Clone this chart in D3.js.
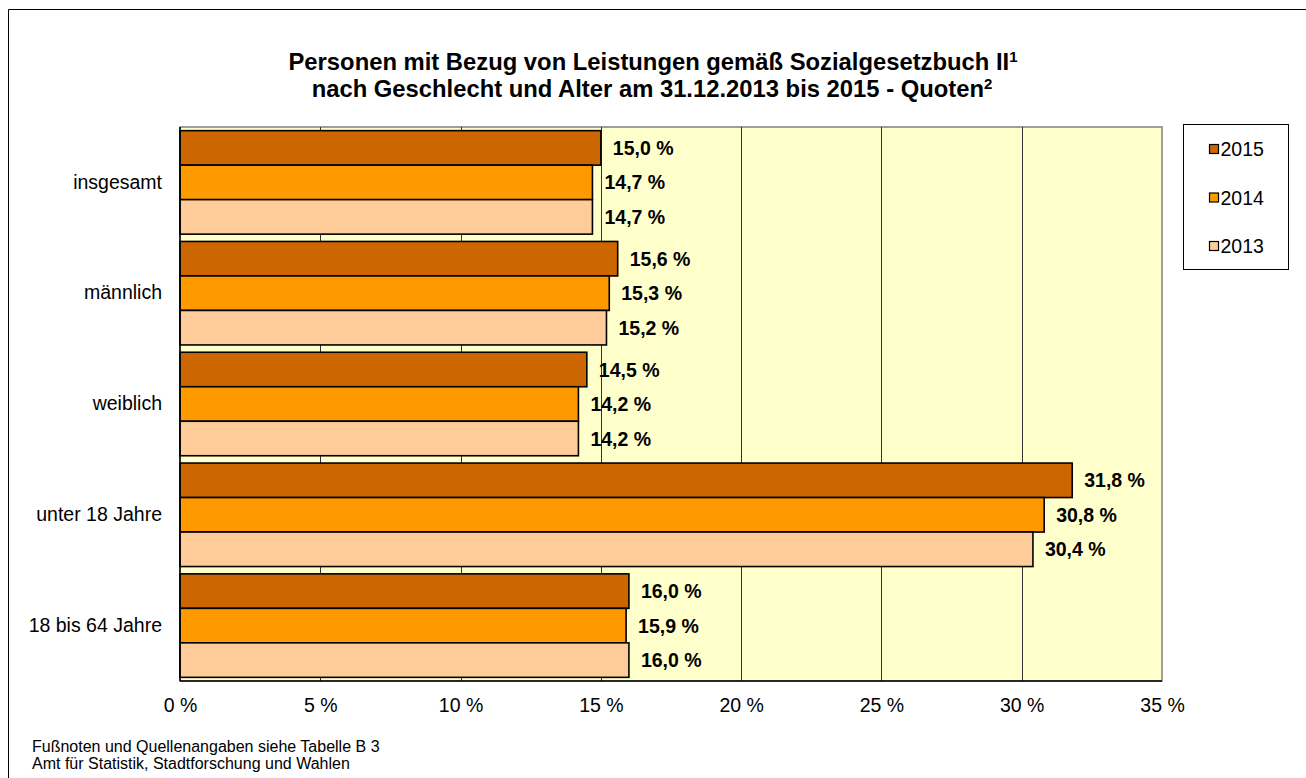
<!DOCTYPE html>
<html>
<head>
<meta charset="utf-8">
<script src="https://cdn.jsdelivr.net/npm/d3@7"></script>
<style>
  html, body { margin: 0; padding: 0; background: #fff; overflow: hidden; }
  svg { display: block; font-family: "Liberation Sans", Arial, sans-serif; }
</style>
</head>
<body>
<svg id="chart" width="1306" height="778"></svg>
<script>
// data
const categories = ['insgesamt', 'männlich', 'weiblich', 'unter 18 Jahre', '18 bis 64 Jahre'];
const years = ['2015', '2014', '2013'];
const values2015 = [15.0, 15.6, 14.5, 31.8, 16.0];
const values2014 = [14.7, 15.3, 14.2, 30.8, 15.9];
const values2013 = [14.7, 15.2, 14.2, 30.4, 16.0];
const xTicks = [0, 5, 10, 15, 20, 25, 30, 35];
const colors = ['#CC6600', '#FF9900', '#FFCC99'];

const seriesValues = [values2015, values2014, values2013];
const rows = [];
categories.forEach((cat, i) => {
  years.forEach((yr, j) => rows.push({ cat, year: yr, value: seriesValues[j][i] }));
});

const svg = d3.select('#chart');
const plot = { left: 180, top: 127, right: 1162, bottom: 681 };

// outer frame: only the left and top edges show in the picture
svg.append('path')
  .attr('d', 'M8.5,778 V9.5 H1306')
  .attr('fill', 'none').attr('stroke', '#000').attr('stroke-width', 1);

// title
const title = svg.append('text')
  .attr('text-anchor', 'middle')
  .attr('font-weight', 'bold')
  .attr('font-size', 23.8)
  .attr('fill', '#000');
const t1 = title.append('tspan').attr('x', 653).attr('y', 70);
t1.append('tspan').text('Personen mit Bezug von Leistungen gemäß Sozialgesetzbuch II');
t1.append('tspan').attr('font-size', 15).attr('dy', -8).text('1');
const t2 = title.append('tspan').attr('x', 652).attr('y', 96.5);
t2.append('tspan').text('nach Geschlecht und Alter am 31.12.2013 bis 2015 - Quoten');
t2.append('tspan').attr('font-size', 15).attr('dy', -8).text('2');

const x = d3.scaleLinear().domain([0, 35]).range([plot.left, plot.right]);
const y = d3.scaleBand().domain(categories)
  .range([plot.top, plot.bottom])
  .paddingInner(0.066).paddingOuter(0.033);
const ySub = d3.scaleBand().domain(years).range([0, y.bandwidth()]);
const color = d3.scaleOrdinal().domain(years).range(colors);

// plot area background
svg.append('rect')
  .attr('x', plot.left).attr('y', plot.top)
  .attr('width', plot.right - plot.left).attr('height', plot.bottom - plot.top)
  .attr('fill', '#FFFFCC').attr('stroke', '#808080').attr('stroke-width', 1.5);

// vertical gridlines
svg.append('g')
  .selectAll('line')
  .data(xTicks.filter(d => d > 0 && d < 35))
  .join('line')
  .attr('x1', d => Math.round(x(d)) + 0.5).attr('x2', d => Math.round(x(d)) + 0.5)
  .attr('y1', plot.top).attr('y2', plot.bottom)
  .attr('stroke', '#333').attr('stroke-width', 1);

// bars
svg.append('g')
  .selectAll('rect')
  .data(rows)
  .join('rect')
  .attr('x', x(0))
  .attr('y', d => y(d.cat) + ySub(d.year))
  .attr('width', d => x(d.value) - x(0))
  .attr('height', ySub.bandwidth())
  .attr('fill', d => color(d.year))
  .attr('stroke', '#000').attr('stroke-width', 1.6);

// value labels
const fmt = v => v.toFixed(1).replace('.', ',') + ' %';
svg.append('g')
  .selectAll('text')
  .data(rows)
  .join('text')
  .attr('x', d => x(d.value) + 12)
  .attr('y', d => y(d.cat) + ySub(d.year) + ySub.bandwidth() / 2)
  .attr('dy', '0.36em')
  .attr('font-size', 19.5)
  .attr('font-weight', 'bold')
  .attr('fill', '#000')
  .text(d => fmt(d.value));

// axis lines
svg.append('line')
  .attr('x1', plot.left).attr('x2', plot.right)
  .attr('y1', plot.bottom).attr('y2', plot.bottom)
  .attr('stroke', '#000').attr('stroke-width', 1.5);
svg.append('line')
  .attr('x1', plot.left).attr('x2', plot.left)
  .attr('y1', plot.top).attr('y2', plot.bottom)
  .attr('stroke', '#000').attr('stroke-width', 1.5);

// x axis labels
const xAxis = d3.axisBottom(x).tickValues(xTicks).tickSize(0).tickPadding(0)
  .tickFormat(d => d + ' %');
const gx = svg.append('g')
  .attr('transform', `translate(0,${plot.bottom})`)
  .call(xAxis);
gx.select('.domain').remove();
gx.selectAll('text')
  .attr('font-size', 19.5)
  .attr('fill', '#000')
  .attr('y', 31)
  .attr('dy', 0);
gx.attr('font-family', null).attr('font-size', null);

// category labels
const yAxis = d3.axisLeft(y).tickSize(0).tickPadding(18);
const gy = svg.append('g')
  .attr('transform', `translate(${plot.left},0)`)
  .call(yAxis);
gy.select('.domain').remove();
gy.attr('font-family', null).attr('font-size', null);
gy.selectAll('text')
  .attr('font-size', 19.5)
  .attr('fill', '#000');

// legend
const legend = svg.append('g');
legend.append('rect')
  .attr('x', 1183.5).attr('y', 124.5)
  .attr('width', 105).attr('height', 145)
  .attr('fill', '#fff').attr('stroke', '#000').attr('stroke-width', 1);
const legendY = d3.scalePoint().domain(years).range([149, 246]);
const items = legend.selectAll('g.item')
  .data(years)
  .join('g')
  .attr('class', 'item')
  .attr('transform', d => `translate(1209,${legendY(d)})`);
items.append('rect')
  .attr('x', 0.5).attr('y', -4.5)
  .attr('width', 9).attr('height', 9)
  .attr('fill', d => color(d)).attr('stroke', '#000').attr('stroke-width', 1.2);
items.append('text')
  .attr('x', 11.5).attr('dy', '0.36em')
  .attr('font-size', 19.5)
  .attr('fill', '#000')
  .text(d => d);

// footer
const footer = svg.append('text').attr('font-size', 16).attr('fill', '#000');
footer.append('tspan').attr('x', 32).attr('y', 751.5).text('Fußnoten und Quellenangaben siehe Tabelle B 3');
footer.append('tspan').attr('x', 32).attr('y', 769).text('Amt für Statistik, Stadtforschung und Wahlen');
</script>
</body>
</html>
